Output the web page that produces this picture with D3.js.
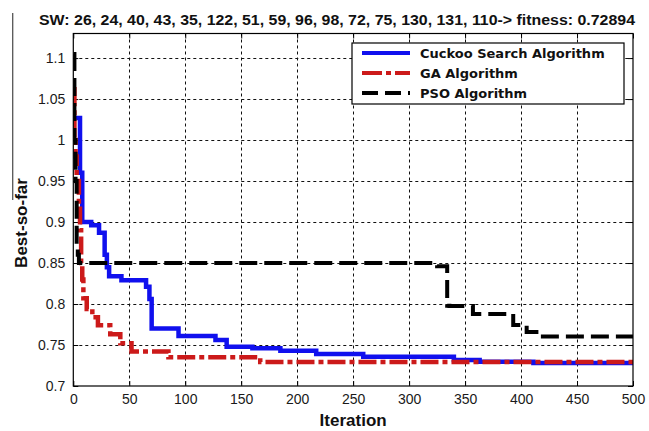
<!DOCTYPE html>
<html>
<head>
<meta charset="utf-8">
<script src="https://cdn.jsdelivr.net/npm/d3@7"></script>
<style>
  body { margin: 0; background: #fff; }
  svg { display: block; }
</style>
</head>
<body>
<div id="chart"></div>
<script>
// Best-so-far convergence plot: Cuckoo vs GA vs PSO

// Chart text
const titleText = "SW: 26, 24, 40, 43, 35, 122, 51, 59, 96, 98, 72, 75, 130, 131, 110-> fitness: 0.72894";
const xLabel = "Iteration";
const yLabel = "Best-so-far";
const seriesNames = ["Cuckoo Search Algorithm", "GA Algorithm", "PSO Algorithm"];

// Ticks
const xTicks = [0, 50, 100, 150, 200, 250, 300, 350, 400, 450, 500];
const yTicks = [0.7, 0.75, 0.8, 0.85, 0.9, 0.95, 1, 1.05, 1.1];
const yTickLabels = ["0.7", "0.75", "0.8", "0.85", "0.9", "0.95", "1", "1.05", "1.1"];

// Cuckoo search (step points: iteration, best value)
const csIter = [0, 6, 8, 16, 23, 28, 30, 32, 43, 65, 68, 70, 94, 127, 137, 160, 185, 217, 259, 340, 363, 411, 500];
const csBest = [1.027, 0.96, 0.9, 0.896, 0.887, 0.86, 0.845, 0.834, 0.829, 0.821, 0.806, 0.77, 0.761, 0.756, 0.748, 0.746, 0.743, 0.739, 0.7357, 0.7317, 0.7296, 0.728, 0.728];

// GA
const gaIter = [0, 1, 2, 3, 5, 6, 7, 8, 9, 12, 17, 22, 33, 42, 52, 85, 167, 500];
const gaBest = [1.062, 1.0, 0.98, 0.95, 0.92, 0.89, 0.85, 0.83, 0.807, 0.794, 0.784, 0.774, 0.763, 0.752, 0.742, 0.735, 0.7292, 0.7289];

// PSO
const psoIter = [0, 1, 2, 3, 4, 5, 325, 334, 336, 357, 393, 405, 417, 500];
const psoBest = [1.105, 1.0, 0.95, 0.87, 0.86, 0.85, 0.846, 0.798, 0.7976, 0.7878, 0.7744, 0.766, 0.7605, 0.7605];

const W = 649, H = 431;
const plot = { left: 73.3, right: 633, top: 33.5, bottom: 386 };

const svg = d3.select("#chart")
  .append("svg")
  .attr("width", W)
  .attr("height", H)
  .attr("font-family", "'Liberation Sans', Arial, sans-serif");

const x = d3.scaleLinear().domain([0, 500]).range([plot.left, plot.right]);
const y = d3.scaleLinear().domain([0.7, 1.13]).range([plot.bottom, plot.top]);

svg.append("defs").append("clipPath")
    .attr("id", "clip")
  .append("rect")
    .attr("x", plot.left)
    .attr("y", plot.top)
    .attr("width", plot.right - plot.left)
    .attr("height", plot.bottom - plot.top);

// stray grey line at top left
svg.append("line")
  .attr("x1", 12.7).attr("x2", 12.7)
  .attr("y1", 13).attr("y2", 200)
  .attr("stroke", "#555")
  .attr("stroke-width", 1.3);

// grid
const grid = svg.append("g")
  .attr("stroke", "#111")
  .attr("stroke-width", 1)
  .attr("stroke-dasharray", "3,3");

grid.selectAll("line.gx")
  .data(xTicks.slice(1, -1))
  .join("line")
    .attr("class", "gx")
    .attr("x1", d => Math.round(x(d)) + 0.5)
    .attr("x2", d => Math.round(x(d)) + 0.5)
    .attr("y1", plot.top)
    .attr("y2", plot.bottom);

grid.selectAll("line.gy")
  .data(yTicks.slice(1))
  .join("line")
    .attr("class", "gy")
    .attr("x1", plot.left)
    .attr("x2", plot.right)
    .attr("y1", d => Math.round(y(d)) + 0.5)
    .attr("y2", d => Math.round(y(d)) + 0.5);

// axes with inward ticks, MATLAB style
const bottomAxis = d3.axisBottom(x).tickValues(xTicks).tickSizeInner(-5).tickSizeOuter(0).tickPadding(8);
const topAxis = d3.axisTop(x).tickValues(xTicks).tickSizeInner(-5).tickSizeOuter(0).tickFormat("");
const leftAxis = d3.axisLeft(y).tickValues(yTicks).tickSizeInner(-5).tickSizeOuter(0).tickPadding(8)
  .tickFormat((d, i) => yTickLabels[i]);
const rightAxis = d3.axisRight(y).tickValues(yTicks).tickSizeInner(-5).tickSizeOuter(0).tickFormat("");

function styleAxis(g) {
  g.select(".domain").remove();
  g.selectAll(".tick line").attr("stroke", "#000");
  g.selectAll(".tick text")
    .attr("fill", "#1a1a1a")
    .attr("font-size", 14)
    .attr("font-family", "'Liberation Sans', Arial, sans-serif");
}

svg.append("g").attr("transform", `translate(0,${plot.bottom})`).call(bottomAxis).call(styleAxis);
svg.append("g").attr("transform", `translate(0,${plot.top})`).call(topAxis).call(styleAxis);
svg.append("g").attr("transform", `translate(${plot.left},0)`).call(leftAxis).call(styleAxis);
svg.append("g").attr("transform", `translate(${plot.right},0)`).call(rightAxis).call(styleAxis);

// series
const line = d3.line()
  .x(d => x(d[0]))
  .y(d => y(d[1]))
  .curve(d3.curveStepAfter);

const series = [
  { name: seriesNames[0], pts: d3.zip(csIter, csBest), color: "#1010ee", width: 4.5, dash: null },
  { name: seriesNames[1], pts: d3.zip(gaIter, gaBest), color: "#cc1a1a", width: 4.5, dash: "18,4,5,4" },
  { name: seriesNames[2], pts: d3.zip(psoIter, psoBest), color: "#000", width: 4, dash: "18,7" }
];

svg.append("g")
    .attr("clip-path", "url(#clip)")
  .selectAll("path")
  .data(series)
  .join("path")
    .attr("fill", "none")
    .attr("stroke", d => d.color)
    .attr("stroke-width", d => d.width)
    .attr("stroke-dasharray", d => d.dash)
    .attr("d", d => line(d.pts));

// frame
svg.append("rect")
  .attr("x", plot.left)
  .attr("y", plot.top)
  .attr("width", plot.right - plot.left)
  .attr("height", plot.bottom - plot.top)
  .attr("fill", "none")
  .attr("stroke", "#000")
  .attr("stroke-width", 1.2);

// title
svg.append("text")
  .attr("x", 39)
  .attr("y", 25)
  .attr("font-size", 14)
  .attr("font-weight", "bold")
  .attr("fill", "#111")
  .attr("textLength", 596)
  .attr("lengthAdjust", "spacingAndGlyphs")
  .text(titleText);

// axis labels
svg.append("text")
  .attr("x", (plot.left + plot.right) / 2)
  .attr("y", 426)
  .attr("text-anchor", "middle")
  .attr("font-size", 17)
  .attr("font-weight", "bold")
  .attr("fill", "#111")
  .text(xLabel);

svg.append("text")
  .attr("transform", "translate(27,223) rotate(-90)")
  .attr("text-anchor", "middle")
  .attr("font-size", 17)
  .attr("font-weight", "bold")
  .attr("fill", "#111")
  .text(yLabel);

// legend
const legend = svg.append("g").attr("transform", "translate(352,43)");

legend.append("rect")
  .attr("width", 272)
  .attr("height", 61)
  .attr("fill", "#fff")
  .attr("stroke", "#000")
  .attr("stroke-width", 1.2);

const rows = legend.selectAll("g.row")
  .data(series)
  .join("g")
    .attr("class", "row")
    .attr("transform", (d, i) => `translate(0,${10 + i * 20})`);

rows.append("line")
  .attr("x1", 10).attr("x2", 58)
  .attr("stroke", d => d.color)
  .attr("stroke-width", 4)
  .attr("stroke-dasharray", d => d.dash ? (d.dash === "18,7" ? "16,7" : "20,4,5,4") : null);

rows.append("text")
  .attr("x", 68)
  .attr("y", 5)
  .attr("font-family", "'DejaVu Sans', Verdana, sans-serif")
  .attr("font-size", 13)
  .attr("font-weight", "bold")
  .attr("fill", "#111")
  .text(d => d.name);
</script>
</body>
</html>
